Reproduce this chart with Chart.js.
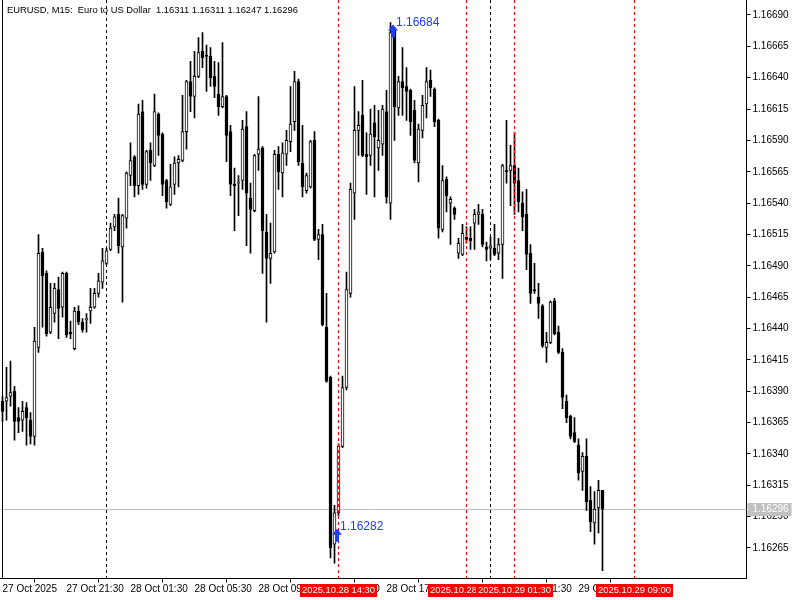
<!DOCTYPE html>
<html lang="en">
<head>
<meta charset="UTF-8" />
<title>EURUSD, M15</title>
<script src="https://cdn.jsdelivr.net/npm/chart.js"></script>
<style>
  html, body { margin: 0; padding: 0; background: #fff; }
  #wrap { width: 800px; height: 600px; }
</style>
</head>
<body>
<div id="wrap"><canvas id="myChart" width="800" height="600"></canvas></div>
<script>
// M15 bars, first one is 2025.10.27 17:30
const opens = [
  1.16382,1.16382,1.16386,1.16390,1.16369,1.16367,1.16377,1.16367,1.16354,1.16425,
  1.16501,1.16484,1.16437,1.16452,1.16471,1.16457,1.16484,1.16437,1.16424,1.16454,
  1.16445,1.16447,1.16454,1.16457,1.16468,1.16477,1.16492,1.16503,1.16521,1.16531,
  1.16505,1.16528,1.16562,1.16577,1.16554,1.16613,1.16555,1.16582,1.16570,1.16611,
  1.16595,1.16558,1.16539,1.16555,1.16572,1.16574,1.16597,1.16637,1.16625,1.16641,
  1.16661,1.16658,1.16657,1.16641,1.16627,1.16617,1.16625,1.16597,1.16555,1.16556,
  1.16558,1.16601,1.16544,1.16534,1.16579,1.16584,1.16517,1.16496,1.16501,1.16579,
  1.16564,1.16579,1.16589,1.16605,1.16637,1.16572,1.16550,1.16553,1.16590,1.16511,
  1.16515,1.16441,1.16401,1.16268,1.16293,1.16346,1.16393,1.16468,1.16548,1.16598,
  1.16610,1.16579,1.16578,1.16604,1.16584,1.16587,1.16613,1.16540,1.16678,1.16616,
  1.16637,1.16633,1.16630,1.16614,1.16572,1.16598,1.16619,1.16638,1.16631,1.16606,
  1.16519,1.16559,1.16540,1.16536,1.16500,1.16499,1.16513,1.16512,1.16524,1.16531,
  1.16531,1.16505,1.16504,1.16504,1.16500,1.16507,1.16566,1.16566,1.16570,1.16558,
  1.16540,1.16531,1.16500,1.16471,1.16465,1.16458,1.16425,1.16429,1.16462,1.16437,
  1.16421,1.16382,1.16370,1.16357,1.16347,1.16326,1.16338,1.16303,1.16285,1.16297,
  1.16311
];
const highs = [
  1.16386,1.16409,1.16414,1.16394,1.16377,1.16382,1.16381,1.16373,1.16441,1.16515,
  1.16504,1.16486,1.16476,1.16476,1.16481,1.16485,1.16485,1.16446,1.16457,1.16458,
  1.16448,1.16452,1.16472,1.16472,1.16484,1.16504,1.16504,1.16524,1.16531,1.16544,
  1.16531,1.16565,1.16588,1.16578,1.16619,1.16622,1.16582,1.16588,1.16627,1.16612,
  1.16596,1.16559,1.16571,1.16577,1.16578,1.16626,1.16638,1.16653,1.16661,1.16672,
  1.16676,1.16666,1.16664,1.16653,1.16652,1.16668,1.16626,1.16602,1.16568,1.16562,
  1.16606,1.16613,1.16556,1.16579,1.16625,1.16585,1.16531,1.16524,1.16582,1.16585,
  1.16588,1.16598,1.16633,1.16645,1.16639,1.16602,1.16564,1.16590,1.16597,1.16519,
  1.16523,1.16468,1.16402,1.16299,1.16348,1.16402,1.16485,1.16556,1.16633,1.16613,
  1.16638,1.16596,1.16615,1.16618,1.16614,1.16618,1.16630,1.16684,1.16680,1.16641,
  1.16664,1.16648,1.16631,1.16622,1.16603,1.16626,1.16648,1.16646,1.16632,1.16607,
  1.16570,1.16561,1.16545,1.16537,1.16512,1.16523,1.16521,1.16521,1.16535,1.16539,
  1.16535,1.16509,1.16513,1.16523,1.16512,1.16571,1.16606,1.16586,1.16596,1.16568,
  1.16549,1.16551,1.16507,1.16492,1.16476,1.16459,1.16437,1.16462,1.16464,1.16442,
  1.16424,1.16387,1.16371,1.16369,1.16352,1.16341,1.16352,1.16314,1.16310,1.16319,
  1.16311
];
const lows = [
  1.16366,1.16367,1.16378,1.16351,1.16357,1.16358,1.16347,1.16348,1.16347,1.16421,
  1.16441,1.16434,1.16436,1.16445,1.16432,1.16449,1.16433,1.16432,1.16423,1.16443,
  1.16437,1.16437,1.16444,1.16456,1.16465,1.16472,1.16491,1.16502,1.16518,1.16500,
  1.16461,1.16520,1.16554,1.16545,1.16547,1.16551,1.16552,1.16558,1.16569,1.16578,
  1.16546,1.16536,1.16538,1.16547,1.16553,1.16573,1.16583,1.16613,1.16608,1.16640,
  1.16648,1.16629,1.16633,1.16624,1.16610,1.16616,1.16573,1.16546,1.16518,1.16530,
  1.16551,1.16506,1.16500,1.16533,1.16566,1.16484,1.16445,1.16476,1.16500,1.16551,
  1.16545,1.16570,1.16581,1.16598,1.16570,1.16545,1.16548,1.16552,1.16510,1.16495,
  1.16442,1.16397,1.16257,1.16253,1.16291,1.16345,1.16391,1.16465,1.16527,1.16578,
  1.16577,1.16547,1.16570,1.16545,1.16566,1.16578,1.16540,1.16527,1.16590,1.16610,
  1.16610,1.16606,1.16594,1.16572,1.16557,1.16592,1.16608,1.16625,1.16601,1.16512,
  1.16517,1.16533,1.16507,1.16527,1.16496,1.16498,1.16508,1.16503,1.16503,1.16523,
  1.16505,1.16494,1.16495,1.16498,1.16495,1.16480,1.16556,1.16538,1.16531,1.16533,
  1.16518,1.16487,1.16460,1.16468,1.16448,1.16425,1.16413,1.16428,1.16435,1.16420,
  1.16376,1.16365,1.16352,1.16349,1.16319,1.16311,1.16295,1.16278,1.16268,1.16277,
  1.16247
];
const closes = [
  1.16374,1.16385,1.16389,1.16366,1.16366,1.16374,1.16369,1.16354,1.16430,1.16500,
  1.16482,1.16436,1.16457,1.16472,1.16456,1.16484,1.16435,1.16436,1.16454,1.16445,
  1.16439,1.16448,1.16457,1.16468,1.16478,1.16494,1.16502,1.16520,1.16529,1.16506,
  1.16530,1.16564,1.16574,1.16554,1.16611,1.16555,1.16581,1.16572,1.16613,1.16594,
  1.16555,1.16541,1.16553,1.16572,1.16575,1.16597,1.16637,1.16625,1.16641,1.16660,
  1.16656,1.16657,1.16640,1.16633,1.16617,1.16625,1.16594,1.16555,1.16554,1.16557,
  1.16599,1.16548,1.16535,1.16578,1.16583,1.16518,1.16496,1.16500,1.16579,1.16565,
  1.16580,1.16590,1.16603,1.16637,1.16573,1.16553,1.16562,1.16589,1.16511,1.16515,
  1.16443,1.16398,1.16265,1.16293,1.16346,1.16393,1.16471,1.16551,1.16598,1.16602,
  1.16578,1.16577,1.16595,1.16593,1.16590,1.16615,1.16545,1.16676,1.16617,1.16637,
  1.16632,1.16629,1.16605,1.16574,1.16599,1.16618,1.16637,1.16632,1.16605,1.16520,
  1.16558,1.16546,1.16543,1.16531,1.16508,1.16516,1.16511,1.16510,1.16531,1.16533,
  1.16507,1.16503,1.16506,1.16499,1.16507,1.16570,1.16565,1.16570,1.16556,1.16541,
  1.16529,1.16499,1.16468,1.16470,1.16460,1.16426,1.16429,1.16461,1.16436,1.16421,
  1.16385,1.16369,1.16354,1.16350,1.16325,1.16338,1.16302,1.16286,1.16296,1.16311,
  1.16296
];

const yTicks = [1.16265,1.16290,1.16315,1.16340,1.16365,1.16390,1.16415,1.16440,1.16465,
  1.16490,1.16515,1.16540,1.16565,1.16590,1.16615,1.16640,1.16665,1.16690];
const xTickLabels = {
  "2025.10.27 17:30": "27 Oct 2025",
  "2025.10.27 21:30": "27 Oct 21:30",
  "2025.10.28 01:30": "28 Oct 01:30",
  "2025.10.28 05:30": "28 Oct 05:30",
  "2025.10.28 09:30": "28 Oct 09:30",
  "2025.10.28 13:30": "28 Oct 13:30",
  "2025.10.28 17:30": "28 Oct 17:30",
  "2025.10.28 21:30": "28 Oct 21:30",
  "2025.10.29 01:30": "29 Oct 01:30",
  "2025.10.29 05:30": "29 Oct 05:30"
};
const daySeparators = ["2025.10.28 00:00", "2025.10.29 00:00"];
const redLines = ["2025.10.28 14:30", "2025.10.28 22:30", "2025.10.29 01:30", "2025.10.29 09:00"];
const arrows = [
  { time: "2025.10.28 17:45", price: 1.16684 },
  { time: "2025.10.28 14:15", price: 1.16282 }
];
const bid = 1.16296;
const title = "EURUSD, M15:  Euro to US Dollar  1.16311 1.16311 1.16247 1.16296";

// time slot for each bar, plus the empty shift area on the right
const slots = 186;
const pad = (n) => String(n).padStart(2, "0");
const times = [];
for (let i = 0; i < slots; i++) {
  const d = new Date(Date.UTC(2025, 9, 27, 17, 30) + i * 15 * 60000);
  times.push(d.getUTCFullYear() + "." + pad(d.getUTCMonth() + 1) + "." + pad(d.getUTCDate()) +
    " " + pad(d.getUTCHours()) + ":" + pad(d.getUTCMinutes()));
}
const slotOf = (t) => times.indexOf(t);

const FONT = "'Liberation Sans', Arial, sans-serif";
Chart.defaults.font.family = FONT;
Chart.defaults.font.size = 10;
Chart.defaults.color = "#000";

const overlay = {
  id: "overlay",
  beforeDatasetsDraw(chart) {
    const { ctx, chartArea: a, scales: { x, y } } = chart;
    ctx.save();
    ctx.lineWidth = 1;
    // bid line
    const by = Math.round(y.getPixelForValue(bid)) + 0.5;
    ctx.strokeStyle = "#c0c0c0";
    ctx.beginPath(); ctx.moveTo(a.left, by); ctx.lineTo(a.right, by); ctx.stroke();
    // period separators
    ctx.strokeStyle = "#000";
    ctx.setLineDash([3, 3]);
    daySeparators.forEach((t) => {
      const px = Math.floor(x.getPixelForValue(slotOf(t))) + 0.5;
      ctx.beginPath(); ctx.moveTo(px, a.top); ctx.lineTo(px, a.bottom); ctx.stroke();
    });
    ctx.restore();
  },
  afterDatasetsDraw(chart) {
    const { ctx, chartArea: a, scales: { x, y } } = chart;
    ctx.save();
    ctx.lineWidth = 1;
    ctx.strokeStyle = "#ff0000";
    ctx.setLineDash([3, 3]);
    redLines.forEach((t) => {
      const px = Math.floor(x.getPixelForValue(slotOf(t))) + 0.5;
      ctx.beginPath(); ctx.moveTo(px, a.top); ctx.lineTo(px, a.bottom); ctx.stroke();
    });
    ctx.setLineDash([]);
    // price arrows
    ctx.fillStyle = "#1f3cff";
    ctx.font = "12px " + FONT;
    ctx.textBaseline = "middle";
    arrows.forEach((ar) => {
      const cx = x.getPixelForValue(slotOf(ar.time)) + 2.5;
      const py = y.getPixelForValue(ar.price);
      const tip = py + 2;
      ctx.beginPath();
      ctx.moveTo(cx, tip);
      ctx.lineTo(cx + 5, tip + 6);
      ctx.lineTo(cx + 2, tip + 6);
      ctx.lineTo(cx + 2, tip + 13);
      ctx.lineTo(cx - 2, tip + 13);
      ctx.lineTo(cx - 2, tip + 6);
      ctx.lineTo(cx - 5, tip + 6);
      ctx.closePath();
      ctx.fill();
      ctx.fillText(ar.price.toFixed(5), cx + 3, py);
    });
    ctx.restore();
  },
  afterDraw(chart) {
    const { ctx, chartArea: a, scales: { x, y } } = chart;
    ctx.save();
    // left frame
    ctx.strokeStyle = "#000";
    ctx.lineWidth = 1;
    ctx.beginPath(); ctx.moveTo(2.5, a.top); ctx.lineTo(2.5, a.bottom); ctx.stroke();
    // title
    ctx.font = "9.4px " + FONT;
    ctx.fillStyle = "#000";
    ctx.textBaseline = "middle";
    ctx.textAlign = "left";
    ctx.fillText(title, 7, 10);
    // time labels of the vertical lines
    ctx.font = "9.4px " + FONT;
    ctx.textAlign = "center";
    redLines.forEach((t) => {
      const px = Math.floor(x.getPixelForValue(slotOf(t))) + 0.5;
      const w = Math.round(ctx.measureText(t).width + 4);
      ctx.fillStyle = "#ff0000";
      ctx.fillRect(Math.round(px - w / 2), 584, w, 13);
      ctx.fillStyle = "#fff";
      ctx.fillText(t, px, 590.5);
    });
    // bid price label
    ctx.font = "10px " + FONT;
    const by = Math.round(y.getPixelForValue(bid));
    ctx.fillStyle = "#c0c0c0";
    ctx.fillRect(a.right + 1, by - 6, 44, 13);
    ctx.fillStyle = "#fff";
    ctx.textAlign = "left";
    ctx.fillText(bid.toFixed(5), a.right + 6, by + 0.5);
    ctx.restore();
  }
};

const wickData = lows.map((l, i) => ({ x: i, y: [l, highs[i]] }));
const bodyData = opens.map((o, i) => ({ x: i, y: [o, closes[i]] }));

const config = {
  type: "bar",
  data: {
    datasets: [
      {
        label: "wicks",
        data: wickData,
        backgroundColor: "#000",
        borderWidth: 0,
        barThickness: 1,
        grouped: false,
        order: 2
      },
      {
        label: "bodies",
        data: bodyData,
        backgroundColor: opens.map((o, i) => (closes[i] >= o ? "#fff" : "#000")),
        borderColor: "#000",
        borderWidth: 1,
        borderSkipped: false,
        barThickness: 3,
        minBarLength: 1,
        grouped: false,
        order: 1
      }
    ]
  },
  options: {
    responsive: false,
    animation: false,
    devicePixelRatio: 1,
    layout: { padding: { left: 0.5, right: 0, top: 0, bottom: 0 } },
    plugins: { legend: { display: false }, tooltip: { enabled: false } },
    scales: {
      x: {
        type: "linear",
        min: -0.5,
        max: slots,
        offset: false,
        grid: { drawOnChartArea: false, drawTicks: true, tickLength: 4, color: "#000" },
        border: { display: true, color: "#000" },
        ticks: {
          autoSkip: false,
          maxRotation: 0,
          minRotation: 0,
          align: "start",
          padding: 1,
          color: "#000",
          callback: (v) => xTickLabels[times[v]]
        },
        afterBuildTicks: (scale) => {
          scale.ticks = Object.keys(xTickLabels).map((t) => ({ value: slotOf(t) }));
        },
        afterFit: (scale) => {
          scale.height = 21.5;
          scale.paddingLeft = 0;
          scale.paddingRight = 0;
        }
      },
      y: {
        position: "right",
        min: 1.1624068,
        max: 1.1670196,
        grid: { drawOnChartArea: false, drawTicks: true, tickLength: 4, color: "#000" },
        border: { display: true, color: "#000" },
        ticks: {
          padding: 2,
          color: "#000",
          callback: (v) => Number(v).toFixed(5)
        },
        afterBuildTicks: (scale) => {
          scale.ticks = yTicks.map((v) => ({ value: v }));
        },
        afterFit: (scale) => {
          scale.width = 53.5;
          scale.paddingTop = 0;
          scale.paddingBottom = 0;
        }
      }
    }
  },
  plugins: [overlay]
};

const myChart = new Chart(document.getElementById("myChart"), config);
</script>
</body>
</html>
